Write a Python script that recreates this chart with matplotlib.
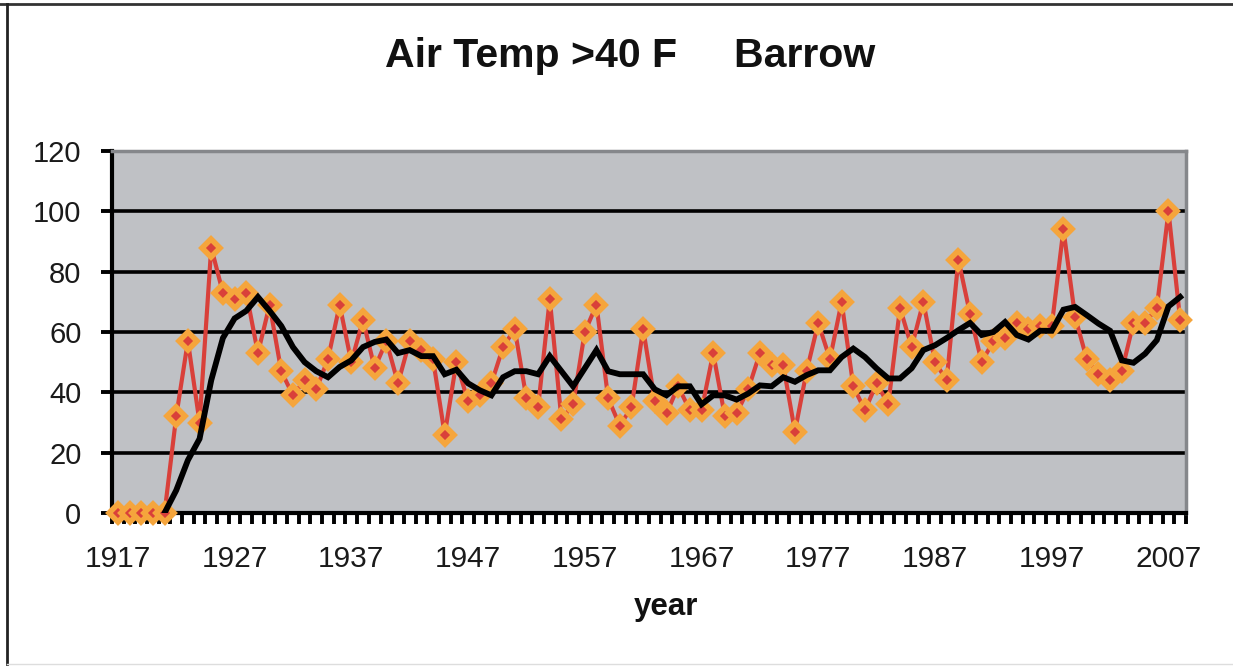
import matplotlib
matplotlib.use("Agg")
import matplotlib.pyplot as plt
from matplotlib.lines import Line2D
import numpy as np

years = list(range(1917, 2009))
air_days = [0, 0, 0, 0, 0,
            32, 57, 30, 88, 73, 71, 73, 53, 69, 47,
            39, 44, 41, 51, 69, 50, 64, 48, 57, 43,
            57, 54, 51, 26, 50, 37, 39, 43, 55, 61,
            38, 35, 71, 31, 36, 60, 69, 38, 29, 35,
            61, 37, 33, 42, 34, 34, 53, 32, 33, 41,
            53, 49, 49, 27, 47, 63, 51, 70, 42, 34,
            43, 36, 68, 55, 70, 50, 44, 84, 66, 50,
            57, 58, 63, 61, 62, 62, 94, 65, 51, 46,
            44, 47, 63, 63, 68, 100, 64]
trend_years = list(range(1921, 2009))
trend = [0, 7.5, 17.5, 24.6, 44, 58, 64.5, 67, 71.6, 67,
         62, 55, 50, 47, 45, 48.4, 50.6, 55, 56.7, 57.5,
         53, 54, 52, 52, 46, 47.5, 43, 40.7, 39, 45,
         47, 47, 46, 52, 47, 42, 48, 54, 47, 46,
         46, 46, 41, 39, 42, 42, 36, 39, 39, 37.6,
         39.6, 42.3, 42, 45, 43.5, 45.7, 47.3, 47.3, 51.7, 54.5,
         51.7, 47.9, 44.6, 44.6, 48, 54, 55.6, 58, 60.6, 63,
         59, 60, 63.3, 59, 57.5, 60.4, 60.4, 67.4, 68.3, 65.6,
         62.8, 60.4, 50.6, 49.8, 52.8, 57.3, 68.5, 71.6]
label_years = list(range(1917, 2008, 10))
y_ticks = [0, 20, 40, 60, 80, 100, 120]

title = "Air Temp >40 F     Barrow"
xlabel = "year"

plt.rcParams['font.family'] = ['Liberation Sans', 'DejaVu Sans']

fig = plt.figure(figsize=(12.33, 6.67), dpi=100)
ax = fig.add_axes([112/1233, 1-513/667, (1186-112)/1233, (513-151)/667])
ax.set_facecolor('#bfc1c5')

ax.plot(years, air_days, color='#d9403a', lw=3.0, marker='D', markersize=9,
        markerfacecolor='#d9403a', markeredgecolor='#f5a53c', markeredgewidth=4,
        zorder=3, clip_on=False)
ax.plot(trend_years, trend, color='black', lw=4.2, zorder=4, solid_joinstyle='miter')

ax.set_xlim(years[0]-0.5, years[-1]+0.5)
ax.set_ylim(0, 120)
ax.set_yticks(y_ticks)
ax.yaxis.grid(True, color='black', lw=2.6)
ax.set_axisbelow(True)

ax.set_xticks(label_years)
ax.set_xticklabels([str(y) for y in label_years])
ax.set_xticks([y-0.5 for y in years] + [years[-1]+0.5], minor=True)
ax.tick_params(axis='x', which='major', length=0, pad=23, labelsize=21.5, colors='#1a1a1a')
ax.tick_params(axis='x', which='minor', length=8, width=2.8, color='black', direction='out')
ax.tick_params(axis='y', which='major', length=8, width=2.8, color='black', pad=14,
               labelsize=21, labelcolor='#1a1a1a')

for s in ['left', 'bottom']:
    ax.spines[s].set_color('black')
    ax.spines[s].set_linewidth(3)
for s in ['top', 'right']:
    ax.spines[s].set_color('#85878b')
    ax.spines[s].set_linewidth(2.5)

fig.text(630/1233, 1-56/667, title, ha='center', va='center', fontsize=29.5,
         fontweight='bold', color='#111111')
fig.text(666/1233, 1-607/667, xlabel, ha='center', va='center', fontsize=22.5,
         fontweight='bold', color='#111111')

# outer frame
fig.add_artist(Line2D([0, 1], [1-4/667, 1-4/667], transform=fig.transFigure, color='#333333', lw=2))
fig.add_artist(Line2D([7/1233, 7/1233], [1-4/667, 1-664/667], transform=fig.transFigure, color='#222222', lw=2))
fig.add_artist(Line2D([7/1233, 1], [1-664/667, 1-664/667], transform=fig.transFigure, color='#dddddd', lw=1))

fig.savefig('out.png', dpi=100)
